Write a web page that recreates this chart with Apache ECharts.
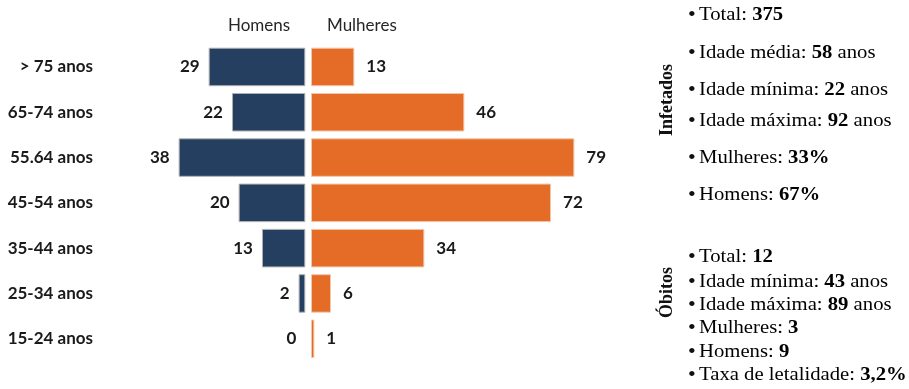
<!DOCTYPE html>
<html>
<head>
<meta charset="utf-8">
<script src="https://cdn.jsdelivr.net/npm/echarts@6/dist/echarts.min.js"></script>
<style>
  html, body { margin: 0; padding: 0; background: #fff; }
  #container { width: 909px; height: 389px; }
</style>
</head>
<body>
<div id="container"></div>
<script>
var categories = ['> 75 anos', '65-74 anos', '55.64 anos', '45-54 anos', '35-44 anos', '25-34 anos', '15-24 anos'];
var homens = [29, 22, 38, 20, 13, 2, 0];
var mulheres = [13, 46, 79, 72, 34, 6, 1];

// [texto, valor em negrito, sufixo]
var infetados = [
    ['Total: ', '375', ''],
    ['Idade média: ', '58', ' anos'],
    ['Idade mínima: ', '22', ' anos'],
    ['Idade máxima: ', '92', ' anos'],
    ['Mulheres: ', '33%', ''],
    ['Homens: ', '67%', '']
];
var obitos = [
    ['Total: ', '12', ''],
    ['Idade mínima: ', '43', ' anos'],
    ['Idade máxima: ', '89', ' anos'],
    ['Mulheres: ', '3', ''],
    ['Homens: ', '9', ''],
    ['Taxa de letalidade: ', '3,2%', '']
];

var dom = document.getElementById('container');
var myChart = echarts.init(dom);

var serif = '"Liberation Serif", "Times New Roman", serif';
var rich = {
    n: { fontFamily: serif, fontSize: 18, color: '#111' },
    b: { fontFamily: serif, fontSize: 18, fontWeight: 'bold', color: '#111' }
};

function listText(items) {
    return items.map(function (it) {
        return '{n|' + it[0] + '}{b|' + it[1] + '}' + (it[2] ? '{n|' + it[2] + '}' : '');
    });
}

var graphics = [
    { type: 'text', left: 228, top: 17, style: { text: 'Homens', fontFamily: 'Lato', fontSize: 17, fill: '#262626' } },
    { type: 'text', left: 327, top: 17, style: { text: 'Mulheres', fontFamily: 'Lato', fontSize: 17, fill: '#262626' } },
    { type: 'text', x: 658, y: 136, rotation: Math.PI / 2,
      style: { text: 'Infetados', fontFamily: serif, fontSize: 18, fontWeight: 'bold', fill: '#111' } },
    { type: 'text', x: 658, y: 318, rotation: Math.PI / 2,
      style: { text: 'Óbitos', fontFamily: serif, fontSize: 18, fontWeight: 'bold', fill: '#111' } }
];

function addList(items, ys) {
    listText(items).forEach(function (t, i) {
        graphics.push({ type: 'text', x: 688, y: ys[i],
            style: { text: '\u2022', fontFamily: serif, fontSize: 22, fill: '#111', verticalAlign: 'middle' } });
        graphics.push({ type: 'text', x: 699, y: ys[i], scaleX: 1.15,
            style: { text: t, rich: rich, verticalAlign: 'middle' } });
    });
}
addList(infetados, [15, 53, 90, 121, 158, 195]);
addList(obitos, [257, 282, 305, 328, 352, 375]);

var labelFont = { fontFamily: 'Lato', fontSize: 17, fontWeight: 'bold', color: '#1a1a1a' };

var option = {
    animation: false,
    grid: [
        { left: 172, width: 133.3, top: 44.3, height: 317.1 },
        { left: 311, width: 266.7, top: 44.3, height: 317.1 }
    ],
    xAxis: [
        { gridIndex: 0, type: 'value', min: 0, max: 40, inverse: true, show: false },
        { gridIndex: 1, type: 'value', min: 0, max: 80, show: false }
    ],
    yAxis: [
        {
            gridIndex: 0, type: 'category', data: categories, inverse: true,
            axisLine: { show: false }, axisTick: { show: false }, splitLine: { show: false },
            axisLabel: Object.assign({ margin: 79, align: 'right' }, labelFont)
        },
        { gridIndex: 1, type: 'category', data: categories, inverse: true, show: false }
    ],
    series: [
        {
            name: 'Homens', type: 'bar', xAxisIndex: 0, yAxisIndex: 0,
            data: homens.map(function (v) {
                return v === 0 ? { value: v, itemStyle: { borderWidth: 0 } } : v;
            }),
            barWidth: 38.5,
            itemStyle: { color: '#243f60', borderColor: '#b0b0b0', borderWidth: 1 },
            label: Object.assign({ show: true, position: 'left', distance: 9 }, labelFont)
        },
        {
            name: 'Mulheres', type: 'bar', xAxisIndex: 1, yAxisIndex: 1,
            data: mulheres, barWidth: 38.5,
            itemStyle: { color: '#e46c26', borderColor: '#f2c6a8', borderWidth: 1 },
            label: Object.assign({ show: true, position: 'right', distance: 12 }, labelFont)
        }
    ],
    graphic: graphics
};

myChart.setOption(option, true);
</script>
</body>
</html>
